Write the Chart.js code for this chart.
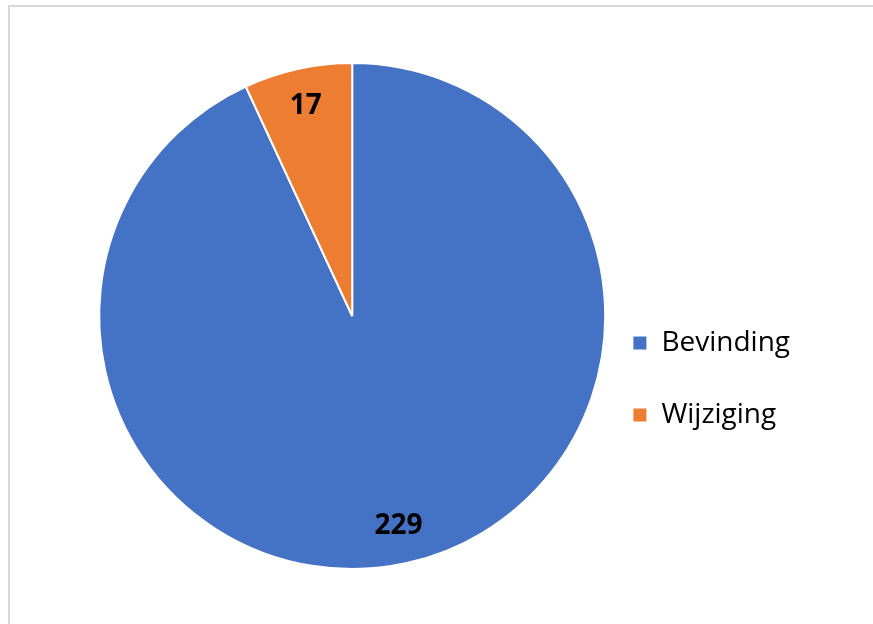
<!DOCTYPE html>
<html>
<head>
<meta charset="utf-8">
<script src="https://cdn.jsdelivr.net/npm/chart.js@4/dist/chart.umd.min.js"></script>
<style>
  html, body { margin: 0; padding: 0; background: #fff; }
  #frame {
    position: absolute; left: 8px; top: 5px; width: 900px; height: 700px;
    border-left: 2px solid #d9d9d9; border-top: 2px solid #d9d9d9;
  }
  #wrap { position: absolute; left: 0; top: 0; width: 873px; height: 624px; }
</style>
</head>
<body>
<div id="frame"></div>
<div id="wrap"><canvas id="pieChart"></canvas></div>
<script>
'use strict';

// ── Data ─────────────────────────────────────────────
const categories = ['Bevinding', 'Wijziging'];
const counts     = [229, 17];
const colours    = ['#4472C4', '#ED7D31'];

// ── Plugin: value labels inside the slices ───────────
const sliceLabels = {
  id: 'sliceLabels',
  afterDatasetsDraw(chart) {
    const { ctx } = chart;
    const meta = chart.getDatasetMeta(0);
    ctx.save();
    ctx.font = 'bold 28px "Open Sans", sans-serif';
    ctx.fillStyle = '#000';
    ctx.textAlign = 'center';
    ctx.textBaseline = 'middle';
    meta.data.forEach((arc, i) => {
      const { x, y, startAngle, endAngle, outerRadius } = arc.getProps(
        ['x', 'y', 'startAngle', 'endAngle', 'outerRadius'], true);
      const mid = (startAngle + endAngle) / 2;
      const r = outerRadius * 0.85;
      ctx.fillText(String(counts[i]), x + Math.cos(mid) * r, y + Math.sin(mid) * r);
    });
    ctx.restore();
  }
};

new Chart(document.getElementById('pieChart'), {
  type: 'pie',
  data: {
    labels: categories,
    datasets: [{
      data: counts,
      backgroundColor: colours,
      borderColor: '#fff',
      borderWidth: 2,
      radius: 253,
    }],
  },
  options: {
    responsive: true,
    maintainAspectRatio: false,
    animation: false,
    layout: { padding: { left: 116, right: 73, top: 63, bottom: 55 } },
    plugins: {
      tooltip: { enabled: false },
      legend: {
        position: 'right',
        title: { display: true, text: ' ', font: { size: 10 }, padding: { top: 0, bottom: 114 } },
        labels: {
          boxWidth: 15,
          boxHeight: 15,
          padding: 44,
          color: '#000',
          font: { size: 28, family: '"Open Sans", sans-serif' },
        },
      },
    },
  },
  plugins: [sliceLabels],
});
</script>
</body>
</html>
